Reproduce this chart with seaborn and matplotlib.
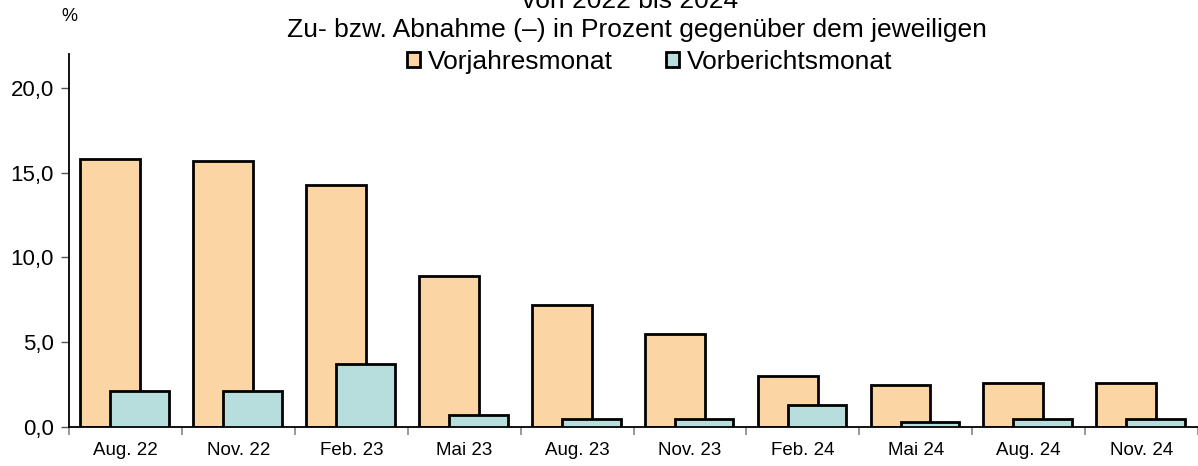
import numpy as np
import pandas as pd
import matplotlib
matplotlib.use("Agg")
import matplotlib.pyplot as plt
import matplotlib.patches as mpatches
from matplotlib.ticker import FuncFormatter, FixedLocator
import seaborn as sns

months = ["Aug. 22", "Nov. 22", "Feb. 23", "Mai 23", "Aug. 23",
          "Nov. 23", "Feb. 24", "Mai 24", "Aug. 24", "Nov. 24"]
vorjahresmonat = [15.8, 15.7, 14.3, 8.9, 7.2, 5.5, 3.0, 2.5, 2.6, 2.6]
vorberichtsmonat = [2.1, 2.1, 3.7, 0.7, 0.5, 0.5, 1.3, 0.3, 0.5, 0.5]
series_names = ["Vorjahresmonat", "Vorberichtsmonat"]
colors = ["#FCD5A5", "#B7DEDC"]

sns.set_theme(style="white")
plt.rcParams["font.family"] = ["Liberation Sans", "DejaVu Sans"]
plt.rcParams["text.color"] = "black"
plt.rcParams["xtick.color"] = "black"
plt.rcParams["ytick.color"] = "black"
plt.rcParams["axes.labelcolor"] = "black"

fig = plt.figure(figsize=(11.98, 4.66), dpi=100)
ax = fig.add_axes([69 / 1198, 1 - 427 / 466, 1 - 69 / 1198, (427 - 54) / 466])

idx = np.arange(len(months))
df_a = pd.DataFrame({"pos": idx - 0.135, "val": vorjahresmonat})
df_b = pd.DataFrame({"pos": idx + 0.125, "val": vorberichtsmonat})

sns.barplot(data=df_a, x="pos", y="val", native_scale=True, width=0.53,
            color=colors[0], saturation=1, edgecolor="black", linewidth=2,
            ax=ax, zorder=2)
sns.barplot(data=df_b, x="pos", y="val", native_scale=True, width=0.52,
            color=colors[1], saturation=1, edgecolor="black", linewidth=2,
            ax=ax, zorder=3)

ax.set_xlim(-0.5, len(months) - 0.5)
ax.set_ylim(0, 22)
ax.set_xlabel("")
ax.set_ylabel("")

ax.xaxis.set_major_locator(FixedLocator(idx))
ax.set_xticklabels(months)
ax.xaxis.set_minor_locator(FixedLocator(np.arange(len(months) + 1) - 0.5))
ax.tick_params(axis="x", which="major", length=0, labelsize=13.5, pad=11,
               labelcolor="black")
ax.tick_params(axis="x", which="minor", length=6, width=1.2, color="#888888",
               bottom=True, direction="out")

ax.set_yticks([0, 5, 10, 15, 20])
ax.yaxis.set_major_formatter(FuncFormatter(lambda v, p: f"{v:.1f}".replace(".", ",")))
ax.tick_params(axis="y", which="major", length=6, width=1, color="#555555",
               left=True, direction="out", labelsize=16, pad=5,
               labelcolor="black")

for s in ["top", "right"]:
    ax.spines[s].set_visible(False)
for s in ["left", "bottom"]:
    ax.spines[s].set_color("black")
    ax.spines[s].set_linewidth(1.3)

fig.text(630 / 1198, 1 - 8 / 466, "von 2022 bis 2024", ha="center",
         va="baseline", fontsize=19)
fig.text(637 / 1198, 1 - 37 / 466,
         "Zu- bzw. Abnahme (\u2013) in Prozent gegenüber dem jeweiligen",
         ha="center", va="baseline", fontsize=19)
fig.text(69 / 1198, 1 - 21 / 466, "%", ha="center", va="baseline", fontsize=13)

handles = [mpatches.Patch(facecolor=c, edgecolor="black", linewidth=2, label=n)
           for c, n in zip(colors, series_names)]
fig.legend(handles=handles, loc="center", bbox_to_anchor=(650 / 1198, 1 - 62 / 466),
           ncol=2, frameon=False, fontsize=19, handlelength=0.5, handleheight=0.5,
           handletextpad=0.3, columnspacing=2.0, borderpad=0)

fig.savefig("out.png", dpi=100)
